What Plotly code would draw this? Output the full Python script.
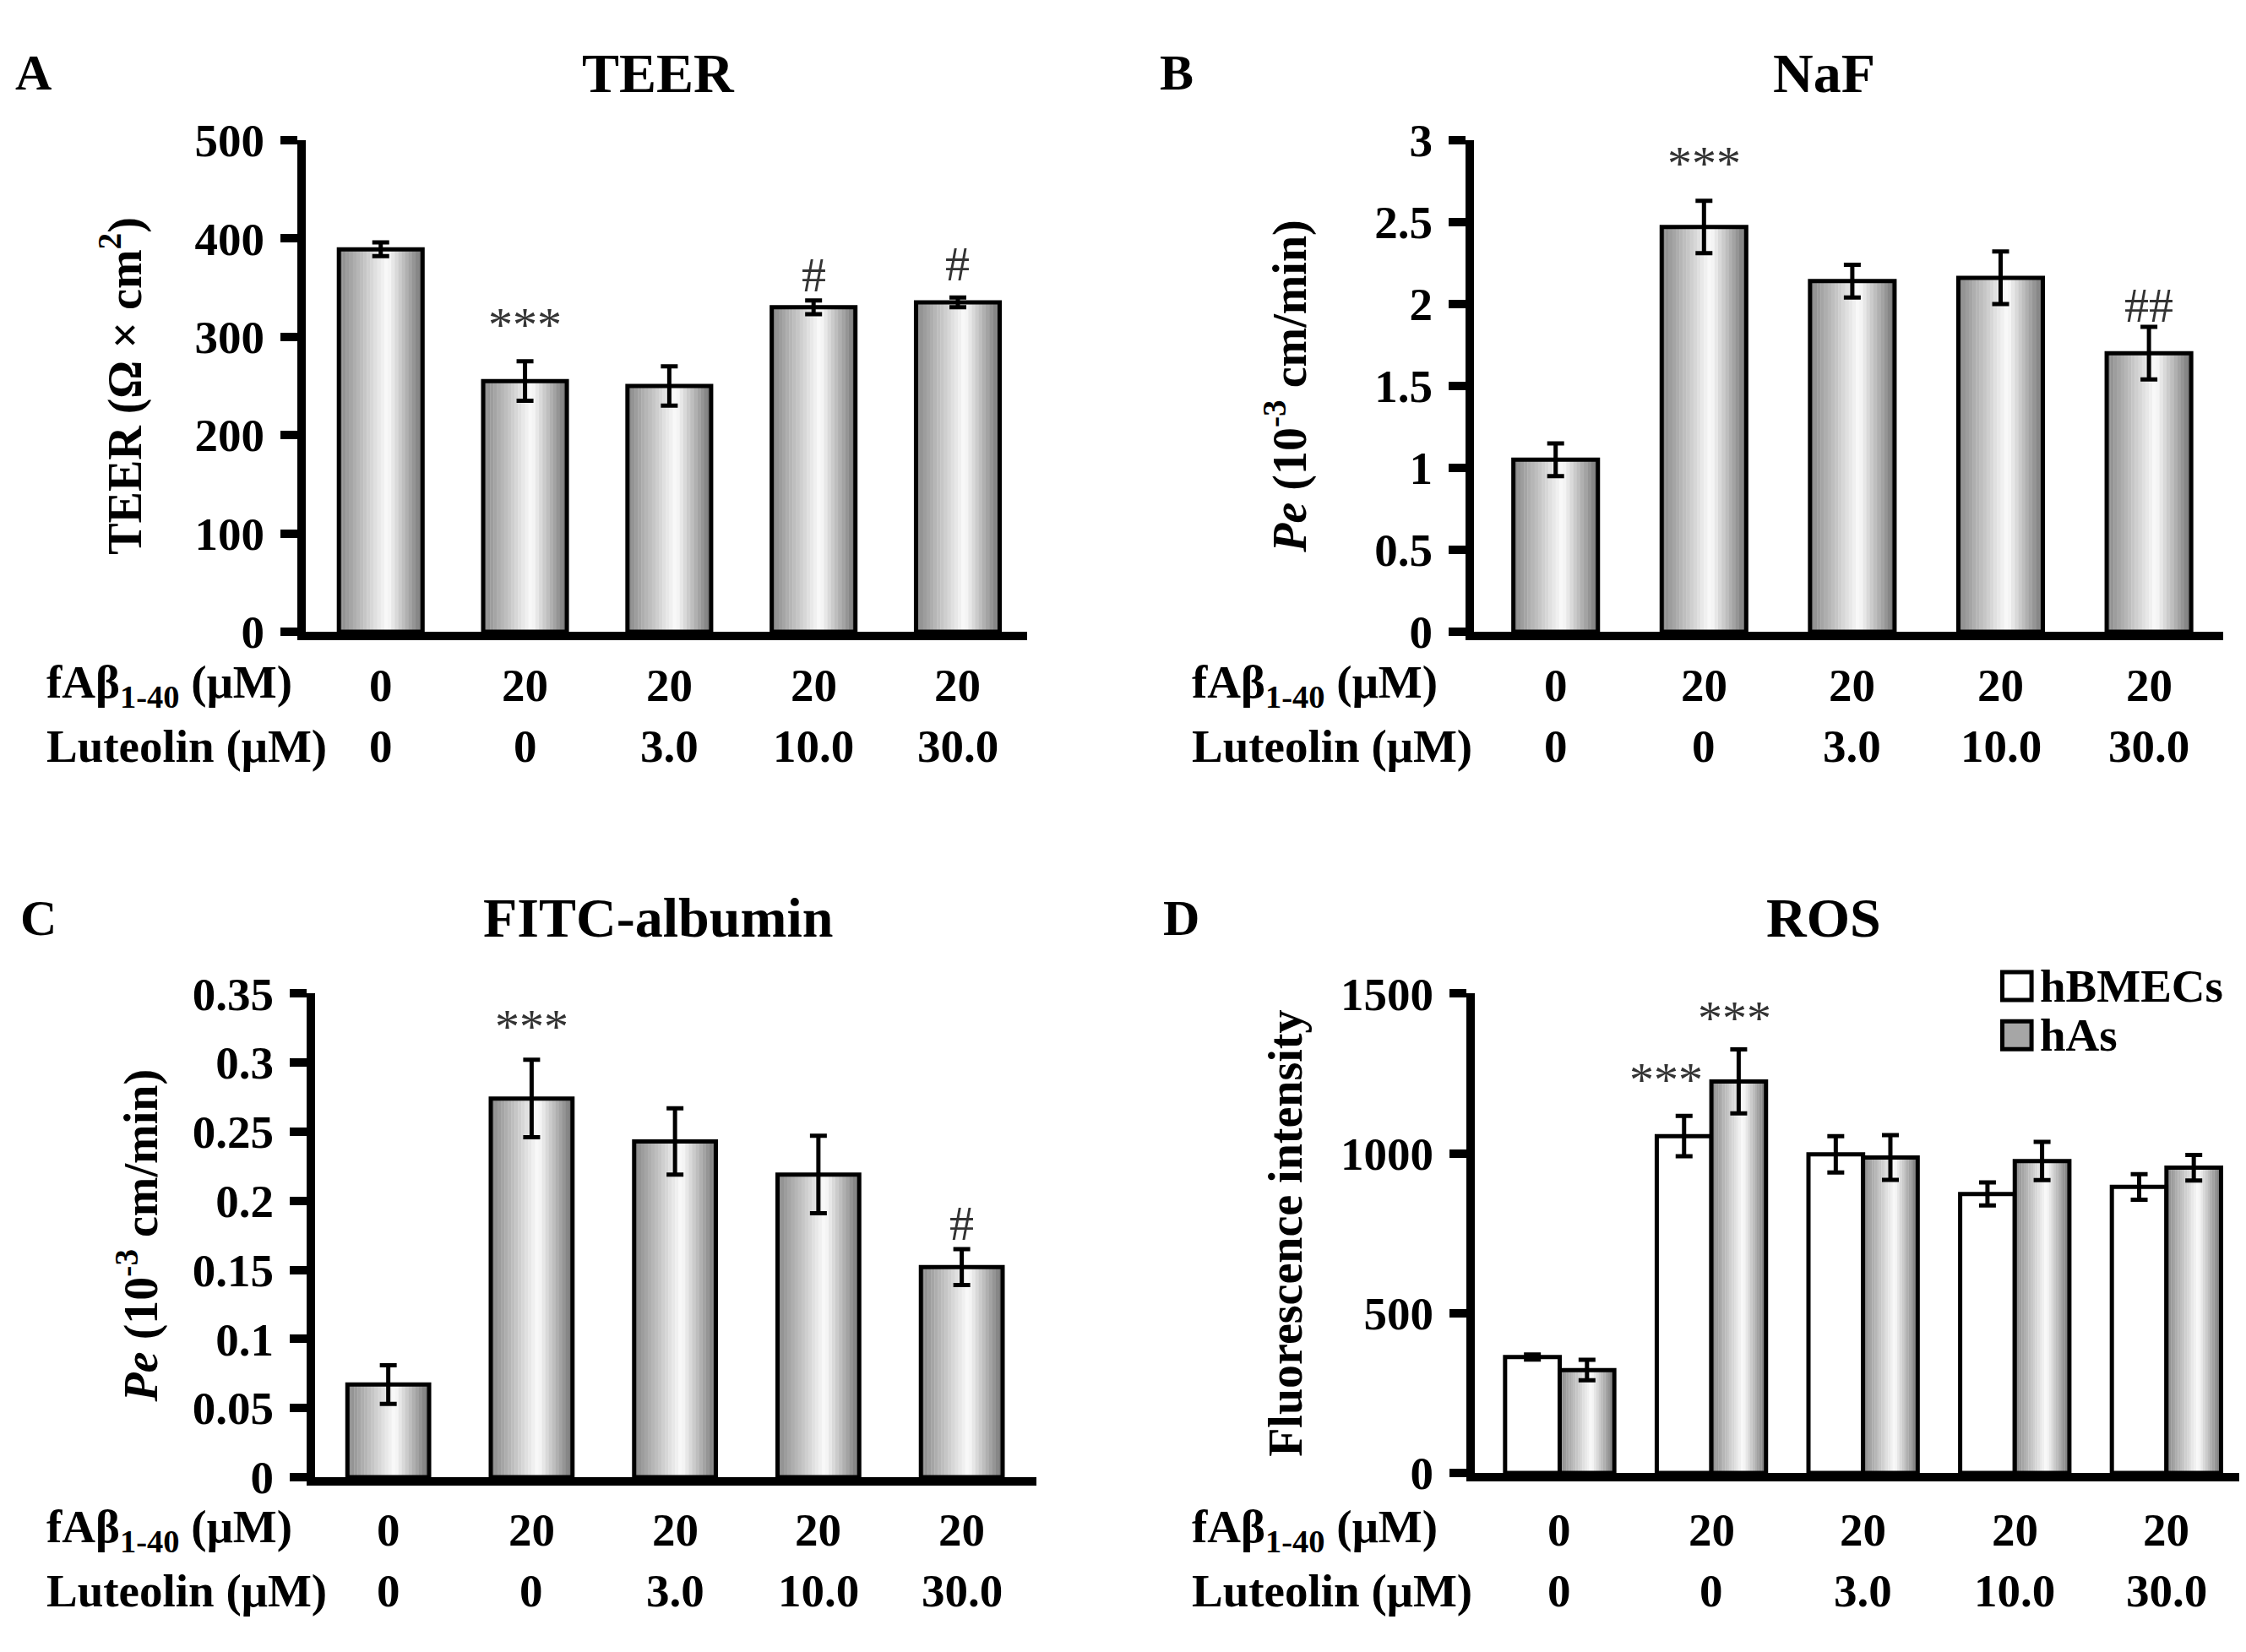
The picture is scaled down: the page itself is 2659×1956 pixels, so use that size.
import plotly.graph_objects as go

# ---- data ----
groups = ["g1", "g2", "g3", "g4", "g5"]
abeta_labels = ["0", "20", "20", "20", "20"]
luteolin_labels = ["0", "0", "3.0", "10.0", "30.0"]

teer = [389, 255, 250, 330, 335]
teer_err = [7, 20, 20, 7, 5]

naf = [1.05, 2.47, 2.14, 2.16, 1.70]
naf_err = [0.10, 0.16, 0.10, 0.16, 0.16]

fitc = [0.067, 0.274, 0.243, 0.219, 0.152]
fitc_err = [0.014, 0.028, 0.024, 0.028, 0.013]

ros_hbmec = [363, 1054, 997, 873, 895]
ros_hbmec_err = [8, 63, 57, 36, 40]
ros_has = [322, 1225, 987, 976, 955]
ros_has_err = [32, 100, 70, 60, 40]

# significance marks: (text, x index, y value)
sig_a = [("***", 1, 312), ("#", 3, 363), ("#", 4, 374)]
sig_b = [("***", 1, 2.86), ("##", 4, 1.99)]
sig_c = [("***", 1, 0.326), ("#", 4, 0.1835)]
sig_d = [("***", 0.70, 1230), ("***", 1.15, 1422)]

FONT = "Liberation Serif"
x_idx = list(range(len(groups)))


def grad_color(t):
    # cylinder-like gray shading: darker edges, white highlight right of centre
    if t < 0.58:
        v = 136 + (252 - 136) * (t / 0.58)
    else:
        v = 252 - (252 - 115) * ((t - 0.58) / 0.42)
    v = int(round(v))
    return f"rgb({v},{v},{v})"


def add_bars(fig, xa, ya, y, err, width, start, fill="gradient", n=24):
    if fill == "gradient":
        for i in range(n):
            fig.add_trace(go.Bar(
                x=x_idx, y=y, xaxis=xa, yaxis=ya,
                width=width / n * 1.08, offset=start + i * width / n,
                marker=dict(color=grad_color((i + 0.5) / n), line=dict(width=0)),
                showlegend=False, hoverinfo="skip"))
    fig.add_trace(go.Bar(
        x=x_idx, y=y, xaxis=xa, yaxis=ya, width=width, offset=start,
        marker=dict(color="rgba(255,255,255,0)" if fill == "gradient" else fill,
                    line=dict(color="black", width=5)),
        error_y=dict(type="data", array=err, color="black", thickness=5, width=10),
        showlegend=False))


fig = go.Figure()
add_bars(fig, "x", "y", teer, teer_err, 0.58, -0.29)
add_bars(fig, "x2", "y2", naf, naf_err, 0.57, -0.285)
add_bars(fig, "x3", "y3", fitc, fitc_err, 0.57, -0.285)
add_bars(fig, "x4", "y4", ros_hbmec, ros_hbmec_err, 0.36, -0.36, fill="white")
add_bars(fig, "x4", "y4", ros_has, ros_has_err, 0.36, 0.0)

tickfont = dict(family=FONT, size=55, color="black", weight="bold")
titlefont = dict(family=FONT, size=56, color="black", weight="bold")


def xax(domain, rng, anchor):
    return dict(domain=domain, range=rng, anchor=anchor, showline=True, linewidth=10,
                linecolor="black", ticks="", showticklabels=False, showgrid=False,
                zeroline=False, fixedrange=True)


def yax(domain, rng, dtick, anchor, title, standoff):
    return dict(domain=domain, range=rng, dtick=dtick, anchor=anchor, showline=True,
                linewidth=10, linecolor="black", ticks="outside", ticklen=20,
                tickwidth=10, tickcolor="black", tickfont=tickfont, showgrid=False,
                zeroline=False, ticklabelstandoff=8,
                title=dict(text=title, font=titlefont, standoff=standoff))


top_dom = [0.6253, 0.9325]
bot_dom = [0.0971, 0.3993]

fig.update_layout(
    width=2659, height=1956,
    margin=dict(l=0, r=0, t=0, b=0),
    paper_bgcolor="white", plot_bgcolor="white",
    barmode="overlay",
    showlegend=False,
    font=dict(family=FONT, color="black"),
    xaxis=xax([0.1331, 0.4543], [-0.52, 4.48], "y"),
    xaxis2=xax([0.6533, 0.9868], [-0.55, 4.5], "y2"),
    xaxis3=xax([0.1373, 0.4584], [-0.51, 4.52], "y3"),
    xaxis4=xax([0.6536, 0.994], [-0.56, 4.48], "y4"),
    yaxis=yax(top_dom, [0, 500], 100, "x", "TEER (Ω × cm<sup>2</sup>)", 49),
    yaxis2=yax(top_dom, [0, 3], 0.5, "x2", "<i>Pe</i> (10<sup>-3</sup> cm/min)", 67),
    yaxis3=yax(bot_dom, [0, 0.35], 0.05, "x3", "<i>Pe</i> (10<sup>-3</sup> cm/min)", 27),
    yaxis4=yax([0.0997, 0.3993], [0, 1500], 500, "x4", "Fluorescence intensity", 31),
)

ann = []
# panel letters and titles
panels = [("A", "TEER", 0.012, 0.290, 0.9745),
          ("B", "NaF", 0.521, 0.809, 0.9745),
          ("C", "FITC-albumin", 0.014, 0.290, 0.4466),
          ("D", "ROS", 0.523, 0.809, 0.4466)]
for letter, title, lx, tx, y in panels:
    ann.append(dict(text=letter, x=lx, y=y, xref="paper", yref="paper", showarrow=False,
                    xanchor="center", yanchor="middle",
                    font=dict(family=FONT, size=60, weight="bold")))
    ann.append(dict(text=title, x=tx, y=y, xref="paper", yref="paper", showarrow=False,
                    xanchor="center", yanchor="middle",
                    font=dict(family=FONT, size=66, weight="bold")))

# two-row condition labels under each panel
rows = [("x", 0.017, 0.592, 0.554), ("x2", 0.527, 0.592, 0.554),
        ("x3", 0.017, 0.0639, 0.0261), ("x4", 0.527, 0.0639, 0.0261)]
for xa, lx, y1, y2 in rows:
    ann.append(dict(text="fAβ<sub>1-40</sub> (μM)", x=lx, y=y1, xref="paper", yref="paper",
                    showarrow=False, xanchor="left", yanchor="middle", font=tickfont))
    ann.append(dict(text="Luteolin (μM)", x=lx, y=y2, xref="paper", yref="paper",
                    showarrow=False, xanchor="left", yanchor="middle", font=tickfont))
    for i in x_idx:
        ann.append(dict(text=abeta_labels[i], x=i, y=y1, xref=xa, yref="paper",
                        showarrow=False, xanchor="center", yanchor="middle", font=tickfont))
        ann.append(dict(text=luteolin_labels[i], x=i, y=y2, xref=xa, yref="paper",
                        showarrow=False, xanchor="center", yanchor="middle", font=tickfont))

# significance marks
for marks, xa, ya in [(sig_a, "x", "y"), (sig_b, "x2", "y2"), (sig_c, "x3", "y3"), (sig_d, "x4", "y4")]:
    for txt, xv, yv in marks:
        ann.append(dict(text=txt, x=xv, y=yv, xref=xa, yref=ya, showarrow=False,
                        xanchor="center", yanchor="middle",
                        font=dict(family=FONT, size=58, color="#333333")))

# legend for panel D
legend_items = [("hBMECs", "white", 0.4039), ("hAs", "#a6a6a6", 0.3732)]
shapes = []
for name, col, yc in legend_items:
    shapes.append(dict(type="rect", xref="paper", yref="paper",
                       x0=0.8885, x1=0.9015, y0=yc - 0.0087, y1=yc + 0.0087,
                       fillcolor=col, line=dict(color="black", width=5)))
    ann.append(dict(text=name, x=0.9045, y=yc, xref="paper", yref="paper", showarrow=False,
                    xanchor="left", yanchor="middle", font=tickfont))

fig.update_layout(annotations=ann, shapes=shapes)

fig.write_html("out.html")
